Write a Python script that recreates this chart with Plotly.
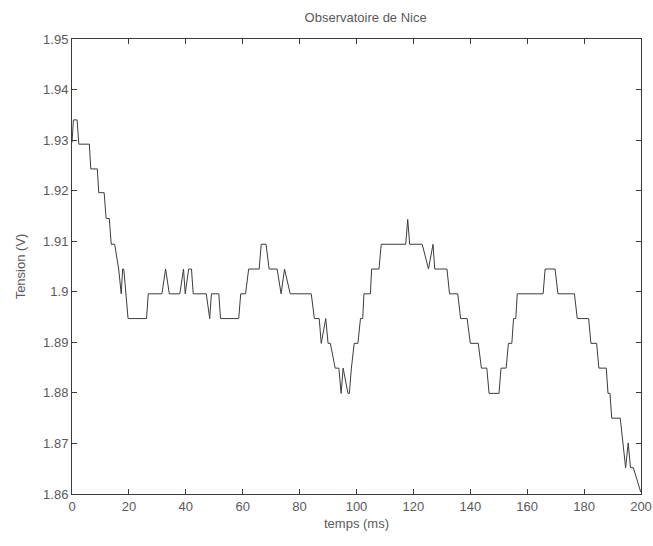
import plotly.graph_objects as go

# Signal vertices (time in ms, voltage in V)
temps_ms = [
    0.0, 0.5, 1.8, 2.4, 6.1, 6.6, 8.9, 9.4, 11.3, 12.0, 13.1, 13.8, 15.0,
    16.4, 17.3, 17.8, 18.2, 19.7, 26.2, 26.8, 31.6, 32.9, 34.2, 37.9, 39.2,
    39.8, 41.0, 42.0, 42.6, 47.2, 48.4, 49.0, 51.6, 52.2, 58.6, 59.3, 61.0,
    62.1, 65.8, 66.5, 68.2, 69.3, 72.1, 73.5, 74.7, 76.7, 84.1, 85.2, 86.9,
    87.6, 89.2, 90.0, 90.8, 92.5, 93.8, 94.6, 95.3, 97.0, 97.5, 98.2, 99.2,
    100.5, 101.4, 102.2, 102.6, 104.9, 105.3, 107.9, 108.7, 117.3, 118.0,
    118.7, 123.1, 125.3, 126.9, 127.5, 131.8, 132.7, 135.6, 136.6, 138.9,
    140.0, 142.8, 143.9, 145.8, 146.6, 150.1, 150.8, 152.6, 153.4, 154.6,
    155.2, 156.0, 156.5, 165.6, 166.3, 169.8, 170.8, 176.6, 177.6, 181.6,
    182.4, 184.4, 185.2, 187.8, 188.4, 189.1, 189.7, 192.7, 194.6, 195.5,
    196.3, 197.3, 199.9,
]
tension_v = [
    1.9295, 1.9340, 1.9340, 1.9292, 1.9292, 1.9243, 1.9243, 1.9196, 1.9196,
    1.9145, 1.9145, 1.9094, 1.9094, 1.9045, 1.8996, 1.9045, 1.9045, 1.8947,
    1.8947, 1.8996, 1.8996, 1.9045, 1.8996, 1.8996, 1.9045, 1.8996, 1.9045,
    1.9045, 1.8996, 1.8996, 1.8947, 1.8996, 1.8996, 1.8947, 1.8947, 1.8996,
    1.8996, 1.9045, 1.9045, 1.9094, 1.9094, 1.9045, 1.9045, 1.8996, 1.9045,
    1.8996, 1.8996, 1.8947, 1.8947, 1.8898, 1.8947, 1.8898, 1.8898, 1.8849,
    1.8849, 1.8799, 1.8849, 1.8799, 1.8799, 1.8849, 1.8898, 1.8898, 1.8947,
    1.8947, 1.8996, 1.8996, 1.9045, 1.9045, 1.9094, 1.9094, 1.9143, 1.9094,
    1.9094, 1.9045, 1.9094, 1.9045, 1.9045, 1.8996, 1.8996, 1.8947, 1.8947,
    1.8898, 1.8898, 1.8849, 1.8849, 1.8799, 1.8799, 1.8849, 1.8849, 1.8898,
    1.8898, 1.8947, 1.8947, 1.8996, 1.8996, 1.9045, 1.9045, 1.8996, 1.8996,
    1.8947, 1.8947, 1.8898, 1.8898, 1.8849, 1.8849, 1.8799, 1.8799, 1.8750,
    1.8750, 1.8652, 1.8701, 1.8652, 1.8652, 1.8604,
]

x_ticks = [0, 20, 40, 60, 80, 100, 120, 140, 160, 180, 200]
y_ticks = [1.86, 1.87, 1.88, 1.89, 1.90, 1.91, 1.92, 1.93, 1.94, 1.95]
y_tick_labels = ["1.86", "1.87", "1.88", "1.89", "1.9", "1.91", "1.92", "1.93", "1.94", "1.95"]

FONT = "Liberation Sans, Arial, sans-serif"
TXT = "#5a5a5a"
AX = "#3a3a3a"

fig = go.Figure()
fig.add_trace(go.Scatter(
    x=temps_ms, y=tension_v, mode="lines",
    line=dict(color="#3c3c3c", width=1),
    showlegend=False, hoverinfo="skip",
))

fig.update_layout(
    width=653, height=546,
    margin=dict(l=72, r=12, t=39, b=52, autoexpand=False),
    paper_bgcolor="white", plot_bgcolor="white",
    font=dict(family=FONT, size=13, color=TXT),
    title=dict(text="Observatoire de Nice", x=0.56, xanchor="center",
               y=0.968, yanchor="middle", font=dict(size=13, color=TXT)),
)
fig.update_xaxes(
    range=[0, 200], tickvals=x_ticks,
    showline=True, linecolor=AX, linewidth=1, mirror="allticks",
    ticks="inside", ticklen=5, tickcolor=AX, showgrid=False, zeroline=False,
    title=dict(text="temps (ms)", standoff=6, font=dict(size=13, color=TXT)),
    tickfont=dict(size=13, color=TXT), automargin=False,
)
fig.update_yaxes(
    range=[1.86, 1.95], tickvals=y_ticks, ticktext=y_tick_labels,
    showline=True, linecolor=AX, linewidth=1, mirror="allticks",
    ticks="inside", ticklen=5, tickcolor=AX, showgrid=False, zeroline=False,
    title=dict(text="Tension (V)", standoff=14, font=dict(size=13, color=TXT)),
    tickfont=dict(size=13, color=TXT), automargin=False,
)

# Remove the default page margin so the 653x546 figure fills the window exactly
fig.write_html(
    "out.html",
    config={"displayModeBar": False},
    post_script="document.body.style.margin='0';document.body.style.overflow='hidden';",
)
